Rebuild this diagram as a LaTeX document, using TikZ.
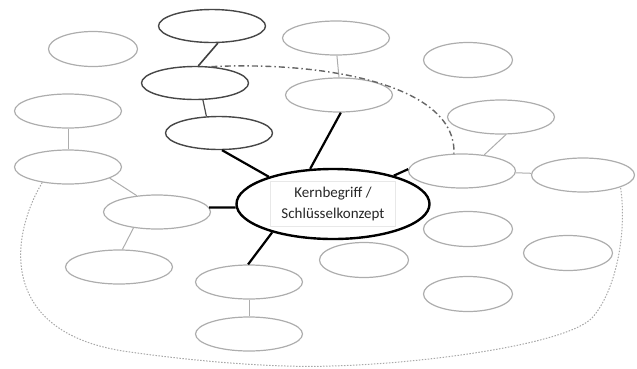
\documentclass[tikz,border=0pt]{standalone}
\usepackage{fontspec}
\setmainfont{Carlito}
\usetikzlibrary{shapes.geometric}

\begin{document}
\begin{tikzpicture}[
    x=1pt, y=-1pt,
    bubble/.style={ellipse, draw=black!32, line width=1.2pt, minimum width=107pt, minimum height=34pt, inner sep=0pt},
    small/.style={bubble, minimum width=89pt, minimum height=35pt},
    chain/.style={bubble, draw=black!72, line width=1.4pt, minimum height=33pt},
    core/.style={ellipse, draw=black, line width=2.4pt, minimum width=193pt, minimum height=70pt, inner sep=0pt},
    textbox/.style={draw=black!9, line width=0.6pt, minimum width=125pt, minimum height=45pt, align=center, font=\fontsize{15}{21}\selectfont, text=black!85},
    link/.style={draw=black!32, line width=1pt},
    strong/.style={black, line width=2.2pt}
]
  \useasboundingbox (0,0) rectangle (637,368);

  % core concept
  \node[core] (K) at (333,204) {};
  \node[textbox] (Ktext) at (K.center) {Kernbegriff /\\Schlüsselkonzept};

  % dark chain
  \node[chain] (D1) at (212,26) {};
  \node[chain] (D2) at (195,83) {};
  \node[chain] (D3) at (219,133) {};

  % empty bubbles
  \node[small]  (N1)  at (93,49) {};
  \node[bubble] (N2)  at (336,38) {};
  \node[small]  (N3)  at (468,60) {};
  \node[bubble] (N4)  at (339,95) {};
  \node[bubble] (N5)  at (501,117) {};
  \node[bubble] (N6)  at (68,111) {};
  \node[bubble] (N7)  at (68,167) {};
  \node[bubble] (N8)  at (462,171) {};
  \node[bubble, minimum width=103pt] (N9) at (583,175) {};
  \node[bubble] (N10) at (157,212) {};
  \node[bubble] (N11) at (119,267) {};
  \node[bubble] (N12) at (249,282) {};
  \node[bubble] (N13) at (249,334) {};
  \node[small]  (N14) at (468,229) {};
  \node[small]  (N15) at (364,260) {};
  \node[small]  (N16) at (568,253) {};
  \node[small]  (N17) at (468,294) {};

  \draw[black!75, line width=1.6pt] (D1.-71) -- (D2.79);
  \draw[black!70, line width=1.2pt] (D2.-65) -- (D3.127);
  \draw[strong] (D3.-80) -- (K.157);
  \draw[strong] (K.123) -- (N4.-84);
  \draw[strong] (K.25) -- (N8.178);
  \draw[strong] (K.182) -- (N10.5);
  \draw[strong] (K.205) -- (N12.93);

  \draw[link] (N2.-87) -- (N4.north);
  \draw[link] (N5.-74) -- (N8.36);
  \draw[link] (N8) -- (N9);
  \draw[link] (N6) -- (N7);
  \draw[link] (N7.-15) -- (N10.141);
  \draw[link] (N10.214) -- (N11.79);
  \draw[link] (N12) -- (N13);

  \draw[black!60, line width=1.4pt, dash pattern=on 6pt off 3pt on 1.5pt off 3pt]
    (D2.45) .. controls (335,61) and (457,88) .. (N8.115);
  \draw[black!34, line width=1pt, dash pattern=on 1.5pt off 1.5pt]
    (N7.211) .. controls (8,240) and (0,335) .. (130,352)
    .. controls (200,362) and (280,368) .. (330,366)
    .. controls (420,364) and (565,345) .. (592,318)
    .. controls (617,290) and (627,230) .. (N9.-18);
\end{tikzpicture}
\end{document}
